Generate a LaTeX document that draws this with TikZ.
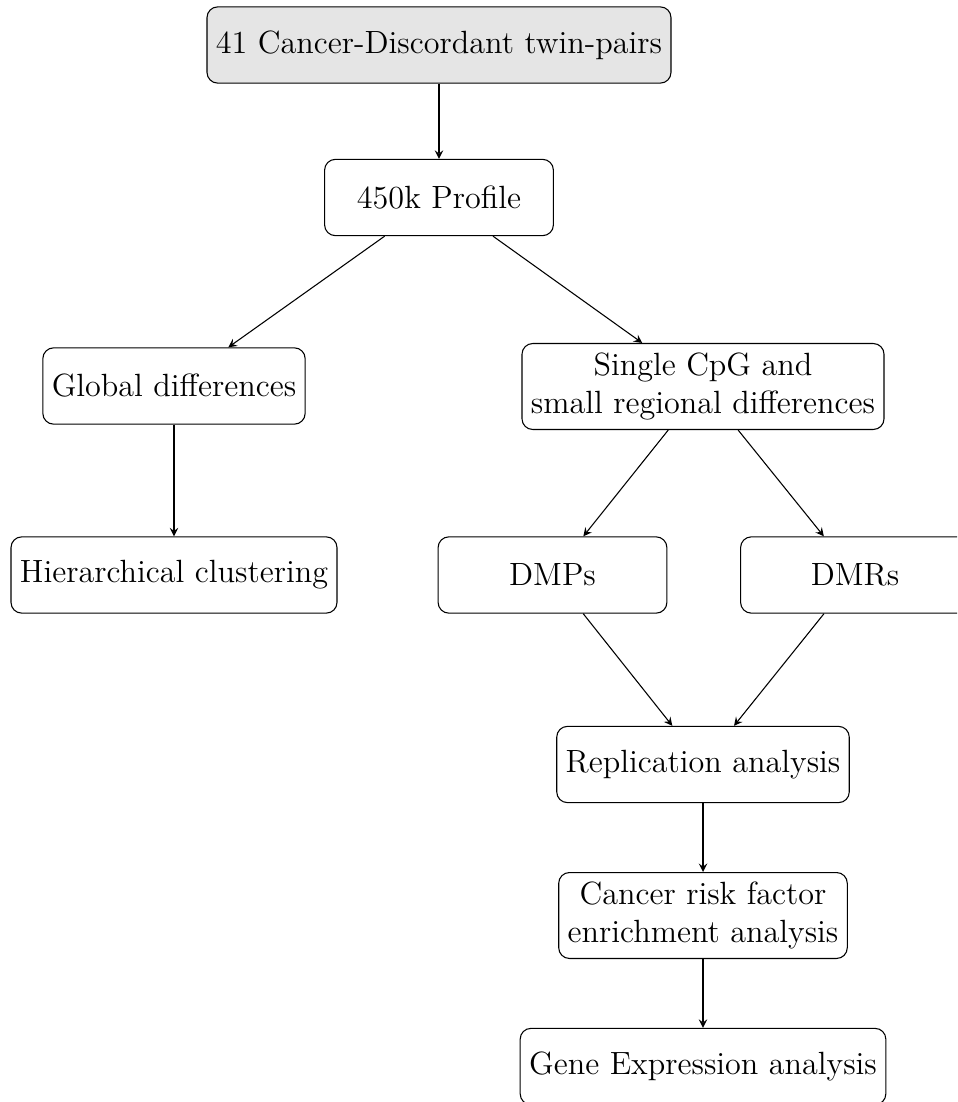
\documentclass[tikz,border=0pt]{standalone}
\usetikzlibrary{arrows}
\begin{document}
\begin{tikzpicture}[x=0.3731pt,y=-0.3731pt,
  box/.style={draw,rounded corners,minimum width=3cm,minimum height=1cm,
    align=center,font=\fontsize{12}{14.5}\selectfont,line width=0.4pt},
  startbox/.style={box,fill=gray!20},
  arr/.style={-stealth,line width=0.4pt}]
\useasboundingbox (0,0) rectangle (957,1102);
\clip (0,0) rectangle (957,1102);
\node[startbox] (top) at (439,45) {41 Cancer-Discordant twin-pairs};
\node[box] (prof) at (439,197.5) {450k Profile};
\node[box] (glob) at (174,386) {Global differences};
\node[box] (single) at (703,386.5) {Single CpG and\\small regional differences};
\node[box] (hier) at (174,575) {Hierarchical clustering};
\node[box] (dmps) at (552.5,575) {DMPs};
\node[box] (dmrs) at (855,575) {DMRs};
\node[box] (repl) at (703,764.5) {Replication analysis};
\node[box] (cancer) at (703,915.5) {Cancer risk factor\\enrichment analysis};
\node[box] (gene) at (703,1066.5) {Gene Expression analysis};
\draw[arr] (top) -- (prof);
\draw[arr] (prof) -- (glob);
\draw[arr] (prof) -- (single);
\draw[arr] (glob) -- (hier);
\draw[arr] (single) -- (dmps);
\draw[arr] (single) -- (dmrs);
\draw[arr] (dmps) -- (repl);
\draw[arr] (dmrs) -- (repl);
\draw[arr] (repl) -- (cancer);
\draw[arr] (cancer) -- (gene);
\end{tikzpicture}
\end{document}
